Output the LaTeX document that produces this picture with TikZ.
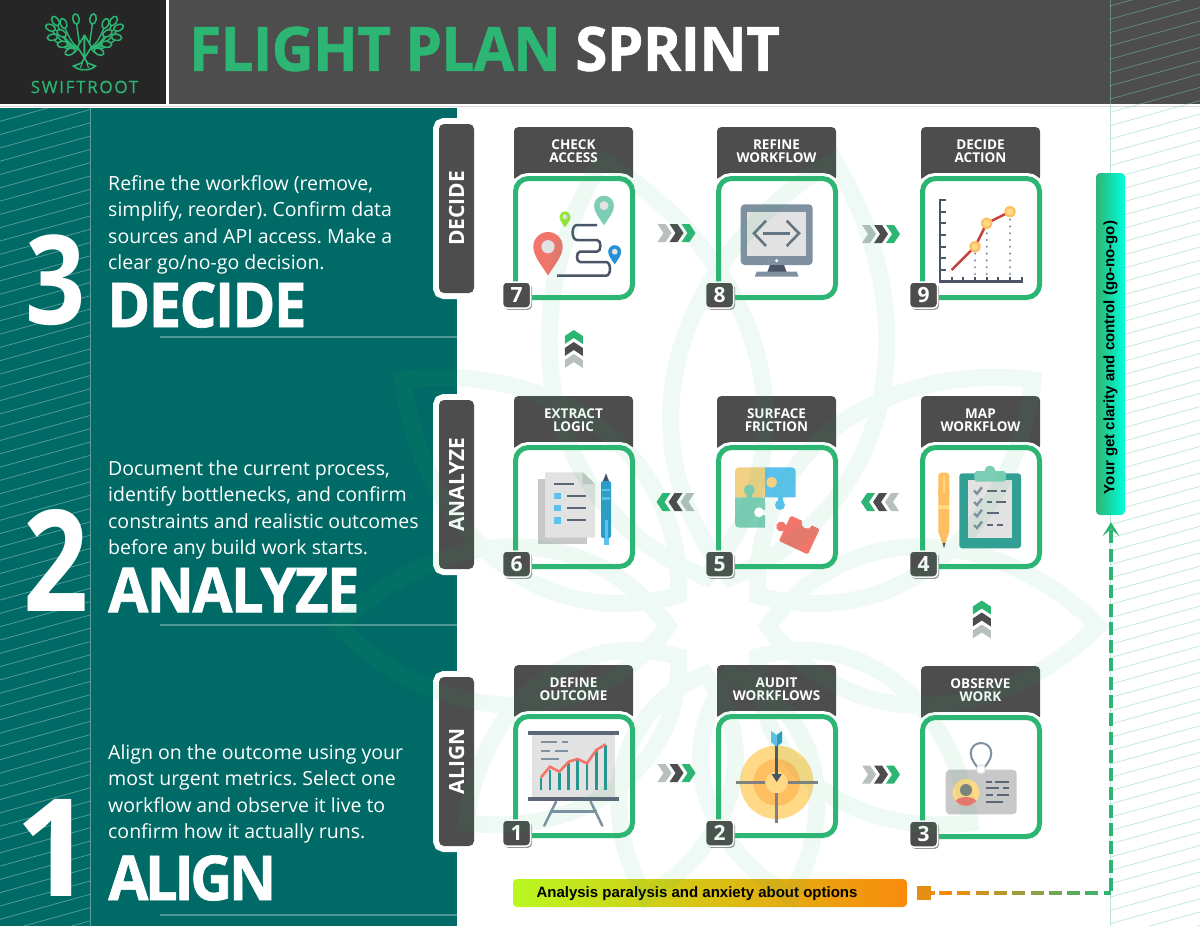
\documentclass[tikz,border=0pt]{standalone}
\usepackage{fontspec}
\setmainfont{Open Sans}
\newfontfamily\barfont{Liberation Sans}
\usetikzlibrary{calc,arrows.meta,shadows}

\definecolor{tealbg}{HTML}{006B66}
\definecolor{darkbar}{HTML}{4D4D4D}
\definecolor{logobg}{HTML}{262626}
\definecolor{leafgreen}{HTML}{2DB573}
\definecolor{chevgray}{HTML}{B7C0BD}
\definecolor{slate}{HTML}{4A5568}
\definecolor{steel}{HTML}{7F91A1}
\definecolor{paper}{HTML}{E2E2E2}
\definecolor{paperdark}{HTML}{C8C8C8}
\definecolor{coral}{HTML}{F2756C}
\definecolor{mint}{HTML}{7CCDB5}
\definecolor{sky}{HTML}{5BC2F0}
\definecolor{deepsky}{HTML}{2E9CC9}
\definecolor{sand}{HTML}{FFD985}
\definecolor{amber}{HTML}{FFBE5F}
\definecolor{lime}{HTML}{B9F71F}
\definecolor{floworange}{HTML}{F98A0B}
\definecolor{aqua}{HTML}{00FFDD}

\tikzset{
    tabbox/.style={anchor=north,fill=darkbar,rounded corners=4pt,minimum width=119,minimum height=54},
    tabtext/.style={text=white,align=center,inner sep=0pt,font=\fontsize{13.5}{13.5}\selectfont\bfseries},
    cardbox/.style={draw=leafgreen,line width=5pt,fill=white,rounded corners=13pt,minimum width=117,minimum height=119,
        preaction={draw=white,line width=11pt}},
    badge/.style={draw=white,line width=1.5pt,fill=darkbar,text=white,rounded corners=4pt,minimum width=28,minimum height=26,
        inner sep=0pt,font=\fontsize{21}{21}\selectfont\bfseries,
        drop shadow={shadow xshift=1.5pt,shadow yshift=-1.8pt,fill=gray!80,opacity=1}},
    sectag/.style={rotate=90,fill=darkbar,text=white,rounded corners=5pt,minimum height=35,inner sep=0pt,
        font=\fontsize{21}{21}\selectfont\bfseries,preaction={draw=white,line width=12pt}},
    bodytext/.style={anchor=north west,inner sep=0pt,text=white,align=left,font=\fontsize{19.5}{26.5}\selectfont},
    bigword/.style={anchor=west,inner sep=0pt,text=white,font=\fontsize{62}{62}\selectfont\bfseries},
    bignum/.style={anchor=center,inner sep=0pt,text=white,font=\bfseries},
    flowline/.style={line width=4pt,draw=leafgreen},
    wmark/.style={draw=leafgreen,line width=17pt},
    pics/chevrons/.style={code={
        \foreach \c/\o in {chevgray/-19,darkbar/-7,leafgreen/5}{
            \fill[\c] (\o,-9) -- ++(8,0) -- ++(6,9) -- ++(-6,9) -- ++(-8,0) -- ++(6,-9) -- cycle;
            };
        }},
}

\newcommand{\headword}[2]{\scalebox{0.94}[1]{\addfontfeature{LetterSpace=#1,FakeBold=1}#2}}
\newcommand{\mappin}[4]{%
    \begin{scope}[shift={(#1,#2)},scale=#3]
        \fill[#4] (0,1.95) .. controls (-0.5,1.2) and (-1,0.6) .. (-1,0) .. controls (-1,-0.55) and (-0.55,-1) .. (0,-1)
            .. controls (0.55,-1) and (1,-0.55) .. (1,0) .. controls (1,0.6) and (0.5,1.2) .. (0,1.95) -- cycle;
        \fill[paper] (0,0) circle (0.45);
    \end{scope}}

\begin{document}
\frenchspacing
\begin{tikzpicture}[x=1pt,y=-1pt]
    \useasboundingbox (0,0) rectangle (1200,926);
    % header and panels
    \fill[logobg] (0,0) rectangle (165.5,104);
    \fill[darkbar] (169,0) rectangle (1200,104);
    \draw[gray!30,line width=0.8pt] (0,106.5) -- (1200,106.5);
    \fill[tealbg] (0,108) rectangle (457,926);
    \begin{scope}
        \clip (0,108) rectangle (90,926);
        \foreach \y in {108,121.3,...,960}{
            \draw[white,opacity=0.35,line width=0.7pt] (0,\y) -- (90,\y-25);
            };
    \end{scope}
    \draw[white,opacity=0.35,line width=0.8pt] (90,108) -- (90,926);
    \begin{scope}
        \clip (1110,0) rectangle (1200,926);
        \foreach \y in {6,19.3,...,960}{
            \draw[mint,opacity=0.5,line width=0.7pt] (1110,\y) -- (1200,\y-25);
            };
    \end{scope}
    \draw[mint,opacity=0.5,line width=0.8pt] (1110,0) -- (1110,926);

    % logo
    \foreach \side in {1,-1}{
        \begin{scope}[shift={(84.5,0)},xscale=\side]
            \foreach \lx/\ly in {-8.5/19,-21/23.5,-29/21,-34/27.7,-32/37.3,-23/33.3,-22/44.3,-14.5/51.7}{
                \draw[leafgreen,line width=1.4pt] (-4,48) .. controls (\lx*0.55,48) and (\lx*0.9,\ly+7) .. (\lx,\ly);
                };
            \foreach \lx/\ly/\an in {-8.5/19/80,-21/23.5/70,-29/21/55,-34/27.7/25,-32/37.3/-10,-23/33.3/30,-22/44.3/-5,-14.5/51.7/-25}{
                \draw[leafgreen,line width=1.5pt,fill=logobg,rotate around={-\an:(\lx,\ly)}] (\lx,\ly) ellipse (5.2 and 3.2);
                };
        \end{scope}
        };
    \foreach \side in {1,-1}{
        \begin{scope}[shift={(84.5,0)},xscale=\side]
            \draw[leafgreen,line width=1.6pt,fill=logobg] (0,35) -- (-7,47) -- (0,58) -- (0,35);
            \draw[leafgreen,line width=1.6pt] (0,58) -- (-3,63) -- (-11,66) .. controls (-6,70) and (-2,70) .. (0,69.5);
            \draw[leafgreen,line width=1.2pt] (-2,62) -- (-4,68);
        \end{scope}
        };
    \node (brand) [inner sep=0pt,text=leafgreen] at (84.5,87) {\fontsize{17}{17}\selectfont\addfontfeature{LetterSpace=10,FakeBold=0.4}SWIFTROOT};

    % title
    \node (title) [anchor=west,inner sep=0pt,font=\fontsize{61}{61}\selectfont\bfseries] at (189,49)
        {\scalebox{0.955}[1]{\addfontfeature{LetterSpace=-1,FakeBold=1}\textcolor{leafgreen}{FLIGHT PLAN} \textcolor{white}{SPRINT}}};

    % left side texts
    \node (num3) [bignum,font=\fontsize{124}{124}\selectfont\bfseries] at (56,280) {\scalebox{0.85}[1]{3}};
    \node (num2) [bignum,font=\fontsize{141}{141}\selectfont\bfseries] at (56,560) {\scalebox{0.81}[1]{2}};
    \node (num1) [bignum,font=\fontsize{136}{136}\selectfont\bfseries] at (54,848) {1};
    \node (desc3) [bodytext] at (108,175) {Refine the workflow (remove,\\simplify, reorder). Confirm data\\sources and API access. Make a\\clear go/no-go decision.};
    \node (desc2) [bodytext] at (108,460) {Document the current process,\\identify bottlenecks, and confirm\\constraints and realistic outcomes\\before any build work starts.};
    \node (desc1) [bodytext] at (108,744) {Align on the outcome using your\\most urgent metrics. Select one\\workflow and observe it live to\\confirm how it actually runs.};
    \node (word3) [bigword] at (107,305) {\headword{-3}{DECIDE}};
    \node (word2) [bigword] at (108,590) {\headword{-3}{ANALYZE}};
    \node (word1) [bigword] at (108,878) {\headword{-6}{ALIGN}};
    \foreach \y in {337,625,915}{
        \draw[white,opacity=0.3,line width=2pt] (160,\y) -- (457,\y);
        };

    % section tags
    \node (tagdecide) [sectag,minimum width=169] at (456.5,208.5) {DECIDE};
    \node (taganalyze) [sectag,minimum width=169] at (456.5,484.5) {ANALYZE};
    \node (tagalign) [sectag,minimum width=169] at (456.5,761.5) {ALIGN};

    % cards
    \foreach \num/\colx/\rowy/\name in {7/574/127/{CHECK\\ACCESS},8/777/127/{REFINE\\WORKFLOW},9/981/127/{DECIDE\\ACTION},
        6/574/396/{EXTRACT\\LOGIC},5/777/396/{SURFACE\\FRICTION},4/981/396/{MAP\\WORKFLOW},
        1/574/665/{DEFINE\\OUTCOME},2/777/665/{AUDIT\\WORKFLOWS},3/981/666/{OBSERVE\\WORK}}{
        \node (tab\num) [tabbox] at (\colx-0.5,\rowy) {};
        \node (tabtext\num) [tabtext] at ($(tab\num.north)+(0,24.2)$) {\name};
        \node (card\num) [cardbox] at (\colx,\rowy+111) {};
        };

    % icon 7, route
    \draw[slate,line width=2.5pt] (597,225) -- (577,225) to[out=180,in=180] (577,240) -- (597,240)
        to[out=0,in=0] (597,251.7) -- (580,251.7) to[out=180,in=180] (580,262) -- (606,262)
        to[out=0,in=0] (606,275.7) -- (557,275.7);
    \mappin{548}{246.7}{14.7}{coral}
    \mappin{604}{205.7}{10}{mint}
    \mappin{565}{216.7}{5.5}{lime!75!leafgreen}
    \mappin{614.7}{251.7}{6.5}{cyan!70!blue!90!white}

    % icon 8, monitor
    \fill[steel,rounded corners=4pt] (740.7,204.3) rectangle (812.7,265);
    \fill[paper] (747.3,211.7) rectangle (806,256);
    \fill[white] (776.7,260.7) circle (1.7);
    \draw[steel!80!black,line width=2.6pt] (766,220.7) -- (754,233.3) -- (766,246);
    \draw[steel!80!black,line width=2.6pt] (786.7,220.7) -- (799,233.3) -- (786.7,246);
    \draw[steel!80!black,line width=2.6pt] (763.3,233.3) -- (790,233.3);
    \fill[slate] (770,265) -- (784,265) -- (786.7,272) -- (767.3,272) -- cycle;
    \fill[steel] (756.7,271.7) -- (796.7,271.7) -- (798.7,276.7) -- (754.7,276.7) -- cycle;

    % icon 9, chart
    \foreach \x/\t in {975/252,986.7/230,1010/218}{
        \draw[steel,line width=2.3pt,line cap=round,dash pattern=on 0pt off 6.8pt] (\x,274) -- (\x,\t);
        };
    \draw[slate,line width=2.5pt] (940,199.3) -- (940,281.7) -- (1022.7,281.7);
    \foreach \y in {200,211.7,223.3,235,246.7,258.3,270}{
        \draw[slate,line width=2pt] (940,\y) -- (946,\y);
        };
    \foreach \x in {951.7,963.3,975,986.7,998.3,1010,1021.7}{
        \draw[slate,line width=2pt] (\x,281.7) -- (\x,276.5);
        };
    \draw[coral!70!red!80!black,line width=2.5pt] (951.7,270) -- (975,246.7) -- (986.7,223.3) -- (1010,211.7);
    \foreach \x/\y in {975/246.7,986.7/223.3,1010/211.7}{
        \fill[amber] (\x,\y) circle (5.7);
        \fill[sand] (\x,\y) circle (3.5);
        };

    % icon 6, papers and pen
    \fill[paperdark] (538,479.3) rectangle (587.3,544.3);
    \fill[paper] (545,472.3) -- (582.7,472.3) -- (595,484) -- (595,537.7) -- (545,537.7) -- cycle;
    \fill[paperdark] (582.7,472.3) -- (595,484) -- (582.7,484) -- cycle;
    \draw[slate!90,line width=2pt] (554.3,484) -- (574,484);
    \foreach \y in {495.7,508,520.3}{
        \fill[sky] (554,\y-3.2) rectangle (560.6,\y+3.2);
        \draw[slate!90,line width=2pt] (566.7,\y) -- (585.7,\y);
        };
    \fill[slate] (606,473.3) -- (603,481) -- (609,481) -- cycle;
    \fill[deepsky,rounded corners=2pt] (601,481) rectangle (611,538);
    \fill[sky] (602,489) rectangle (610,491);
    \fill[sky] (602,497) rectangle (610,500);
    \fill[sky] (604.5,520) rectangle (607.5,545);
    \fill[sky] (603.5,538) rectangle (608.5,545);

    % icon 5, puzzle
    \fill[sand!90!gray] (735,497.3) [rounded corners=4pt] -- (735,467.3) [sharp corners] -- (765,467.3) -- (765,497.3) -- cycle;
    \fill[sky] (765,467.3) [rounded corners=4pt] -- (795.7,467.3) [sharp corners] -- (795.7,497.3) -- (765,497.3) -- cycle;
    \fill[mint] (735,497.3) -- (765,497.3) -- (765,527.7) [rounded corners=4pt] -- (735,527.7) [sharp corners] -- cycle;
    \fill[sand!90!gray] (771.7,482.3) circle (5.5);
    \fill[mint] (749.3,490) circle (5.5);
    \fill[mint] (746.5,490) rectangle (752,498);
    \fill[sky] (780,505) circle (5);
    \fill[sky] (777.5,497) rectangle (782.5,505);
    \fill[white] (759,512.3) circle (5);
    \fill[white] (760,510) rectangle (766,515);
    \begin{scope}[shift={(799.3,535)},rotate=-25]
        \fill[coral,rounded corners=2pt] (-16,-14) rectangle (16,14);
        \fill[coral] (-20,0) circle (5);
        \fill[white] (2,-14) circle (5.5);
    \end{scope}

    % icon 4, pen and clipboard
    \fill[amber,rounded corners=3pt] (938.3,472.7) rectangle (949.3,500);
    \fill[amber] (938.3,490) -- (949.3,490) -- (949.3,531.7) -- (944,547.7) -- (938.3,531.7) -- cycle;
    \fill[sand] (938.3,505) rectangle (949.3,509);
    \fill[slate] (942.5,543) -- (945.5,543) -- (944,548) -- cycle;
    \draw[sand,line width=1.2pt] (944,476) -- (944,493);
    \fill[teal!60!mint,rounded corners=3pt] (959.3,473.3) rectangle (1021,548.3);
    \fill[paper] (968.3,480) rectangle (1012.3,538.3);
    \fill[mint,rounded corners=3pt] (974.3,471) rectangle (1006,481.7);
    \fill[mint] (990,471) circle (5.5);
    \foreach \y in {490.7,502,513.3,525}{
        \draw[steel,line width=2.4pt] (974,\y) -- (977,\y+3) -- (982,\y-3.5);
        };
    \foreach \a/\b/\y in {986.7/996.7/490.7,1000.7/1005.7/490.7,986.7/991.7/502,995.7/1005.7/502,986.7/999/513.3,986.7/993.3/525,996.7/1003.3/525}{
        \draw[slate!90,line width=2pt] (\a,\y) -- (\b,\y);
        };

    % icon 1, board
    \fill[paper] (532.3,735) rectangle (615,797.3);
    \draw[steel,line width=2.5pt,line cap=round] (556,801.7) -- (544.3,825.7);
    \draw[steel,line width=2.5pt,line cap=round] (590.7,801.7) -- (602.3,825.7);
    \draw[steel,line width=2.5pt] (550,811.7) -- (596.7,811.7);
    \draw[slate!90,line width=4pt] (527.7,733.3) -- (619,733.3);
    \draw[slate!90,line width=4pt] (527.7,799) -- (619,799);
    \foreach \a/\b/\y in {541/556.7/742.3,561.7/568.3/742.3,541/550/750.7,555/568.3/750.7,541/559.3/759.3}{
        \draw[steel,line width=2pt] (\a,\y) -- (\b,\y);
        };
    \foreach \x/\y in {541/778,550/770,559.3/773,568.7/763,577.7/760,587/763,596.3/750,605.7/745}{
        \draw[teal!70!mint,line width=2.8pt] (\x,790) -- (\x,\y);
        };
    \draw[coral,line width=2.6pt] (541,777.3) -- (550,766.7) -- (559.3,771.7) -- (568.7,761.7) -- (577.7,759) -- (587,763.3) -- (596.3,750) -- (605.7,744.3);

    % icon 2, target
    \fill[sand] (776.7,782.3) circle (36.7);
    \fill[amber] (776.7,782.3) circle (23.3);
    \fill[sand] (776.7,782.3) circle (11);
    \draw[gray,line width=3.5pt] (736,782.3) -- (765,782.3);
    \draw[gray,line width=3.5pt] (788.3,782.3) -- (817.7,782.3);
    \draw[gray,line width=3.5pt] (776.7,793.3) -- (776.7,823.3);
    \draw[slate,line width=2.5pt] (776.7,745) -- (776.7,778);
    \fill[slate] (771.5,774) -- (781.9,774) -- (776.7,782) -- cycle;
    \fill[sky] (771,731) -- (776.7,735) -- (776.7,746.7) -- (771,742.3) -- cycle;
    \fill[deepsky] (782,731) -- (776.7,735) -- (776.7,746.7) -- (782,742.3) -- cycle;

    % icon 3, badge card
    \fill[paperdark,rounded corners=4pt] (945.7,769.7) rectangle (1016.7,814.3);
    \draw[steel,line width=2pt] (981,771.7) .. controls (976,765) and (970.7,760) .. (970.7,753.3)
        .. controls (970.7,747) and (975.5,743) .. (981,743) .. controls (986.5,743) and (991.3,747) .. (991.3,753.3)
        .. controls (991.3,760) and (986,765) .. (981,771.7);
    \draw[paper,fill=white,line width=1.2pt] (981,769.3) circle (4.5);
    \begin{scope}
        \clip (966,792.3) circle (13.5);
        \fill[sand] (966,792.3) circle (13.5);
        \fill[coral] (966,803) ellipse (11 and 6);
    \end{scope}
    \fill[gray] (966,790) circle (6);
    \foreach \a/\b/\y in {986/991.7/781.7,995/1009.3/781.7,986/999.3/788.3,1003.3/1009.3/788.3,986/993.3/795,997.3/1009.3/795,986/1003.3/801.7}{
        \draw[slate!90,line width=1.8pt] (\a,\y) -- (\b,\y);
        };

    % number badges on top of the icons
    \foreach \num in {1,...,9}{
        \node (badge\num) [badge] at ($(card\num.south west)+(3.5,-5)$) {\num};
        };

    % chevrons between the cards
    \pic at ($(card7)!.5!(card8)+(1,-5)$) {chevrons};
    \pic at ($(card8)!.5!(card9)+(2,-4)$) {chevrons};
    \pic[rotate=90] at ($(card7.south)!.5!(tab6.north)+(0,1)$) {chevrons};
    \pic[rotate=180] at ($(card5)!.5!(card6)+(0,-5)$) {chevrons};
    \pic[rotate=180] at ($(card4)!.5!(card5)+(1,-5)$) {chevrons};
    \pic[rotate=90] at ($(card4.south)!.5!(tab3.north)+(1,2)$) {chevrons};
    \pic at ($(card1)!.5!(card2)+(1,-3)$) {chevrons};
    \pic at ($(card2)!.5!(card3)+(2,-2)$) {chevrons};

    % bars and flow
    \node (paralysisbar) [rounded corners=4pt,left color=lime,right color=floworange,minimum width=394,minimum height=28] at (710,893) {};
    \node (paralysistext) [inner sep=0pt,font=\barfont\fontsize{15}{15}\selectfont\bfseries] at ($(paralysisbar.center)+(-13,0.5)$) {Analysis paralysis and anxiety about options};
    \node (claritybar) [rotate=90,rounded corners=4pt,left color=leafgreen,right color=aqua,minimum width=342,minimum height=29] at (1110.5,344) {};
    \node (claritytext) [rotate=90,inner sep=0pt,font=\barfont\fontsize{15}{15}\selectfont\bfseries] at ($(claritybar.center)+(0,13.5)$) {Your get clarity and control (go-no-go)};
    \node (flowstart) [fill=floworange!90!leafgreen,minimum size=14,inner sep=0pt] at (924,893) {};
    \coordinate (flowcorner) at (1111,893);
    \draw[flowline,draw=floworange!90!leafgreen] (flowstart.east) -- ++(4,0);
    \foreach \i in {0,...,9}{
        \pgfmathsetmacro\da{(8+18.3*\i)/180}
        \pgfmathsetmacro\db{min(1,\da+13/180)}
        \pgfmathtruncatemacro\pct{\i*11}
        \draw[flowline,draw=leafgreen!\pct!floworange] ($(flowstart.east)!\da!(flowcorner)$) -- ($(flowstart.east)!\db!(flowcorner)$);
        };
    \draw[flowline,dash pattern=on 13pt off 5.3pt,shorten >=7pt,-{Stealth[length=14pt,width=17pt,inset=7pt]}] ([yshift=2pt]flowcorner) -- (flowcorner |- claritybar.west);

    % faint logo on top of all
    \begin{scope}[transparency group,opacity=0.075]
        \foreach \a/\l in {14/430,-14/430,52/350,-52/350,90/330,-90/330,128/270,-128/270,165/230,-165/230}{
            \begin{scope}[shift={(718,626)},rotate=\a]
                \draw[wmark] (0,-50) .. controls (-0.34*\l,-0.25*\l-50) and (-0.3*\l,-0.7*\l-50) .. (0,-\l-50)
                    .. controls (0.3*\l,-0.7*\l-50) and (0.34*\l,-0.25*\l-50) .. (0,-50) -- cycle;
            \end{scope}
            };
    \end{scope}
\end{tikzpicture}
\end{document}
